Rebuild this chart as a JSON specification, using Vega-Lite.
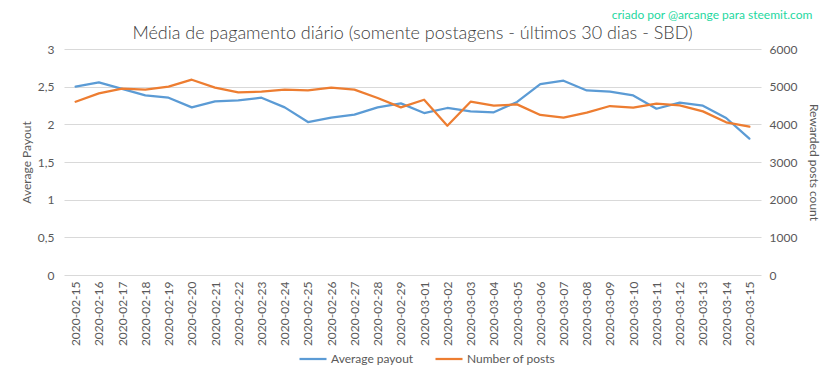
{
  "$schema": "https://vega.github.io/schema/vega-lite/v6.json",
  "width": 697,
  "height": 226,
  "autosize": {"type": "none"},
  "padding": {"left": 64, "top": 49, "right": 72, "bottom": 104},
  "background": "white",
  "title": {
    "text": "Média de pagamento diário (somente postagens - últimos 30 dias - SBD)",
    "font": "Lato",
    "fontSize": 18,
    "fontWeight": 300,
    "color": "#404040",
    "anchor": "middle",
    "offset": -34
  },
  "config": {
    "view": {"stroke": null},
    "font": "Lato",
    "axis": {
      "labelFont": "Lato",
      "labelFontSize": 12,
      "labelColor": "#595959",
      "titleFont": "Lato",
      "titleFontSize": 12,
      "titleFontWeight": "normal",
      "titleColor": "#595959",
      "domain": false,
      "ticks": false,
      "gridColor": "#d9d9d9",
      "gridWidth": 1
    }
  },
  "data": {
    "values": [
      {"date": "2020-02-15", "payout": 2.50, "posts": 4600},
      {"date": "2020-02-16", "payout": 2.557, "posts": 4822},
      {"date": "2020-02-17", "payout": 2.47, "posts": 4946},
      {"date": "2020-02-18", "payout": 2.384, "posts": 4920},
      {"date": "2020-02-19", "payout": 2.354, "posts": 5000},
      {"date": "2020-02-20", "payout": 2.225, "posts": 5185},
      {"date": "2020-02-21", "payout": 2.305, "posts": 4973},
      {"date": "2020-02-22", "payout": 2.318, "posts": 4849},
      {"date": "2020-02-23", "payout": 2.354, "posts": 4866},
      {"date": "2020-02-24", "payout": 2.225, "posts": 4920},
      {"date": "2020-02-25", "payout": 2.03, "posts": 4902},
      {"date": "2020-02-26", "payout": 2.09, "posts": 4973},
      {"date": "2020-02-27", "payout": 2.128, "posts": 4920},
      {"date": "2020-02-28", "payout": 2.225, "posts": 4699},
      {"date": "2020-02-29", "payout": 2.278, "posts": 4450},
      {"date": "2020-03-01", "payout": 2.15, "posts": 4654},
      {"date": "2020-03-02", "payout": 2.217, "posts": 3964},
      {"date": "2020-03-03", "payout": 2.172, "posts": 4601},
      {"date": "2020-03-04", "payout": 2.16, "posts": 4495},
      {"date": "2020-03-05", "payout": 2.297, "posts": 4530},
      {"date": "2020-03-06", "payout": 2.535, "posts": 4248},
      {"date": "2020-03-07", "payout": 2.579, "posts": 4177},
      {"date": "2020-03-08", "payout": 2.45, "posts": 4310},
      {"date": "2020-03-09", "payout": 2.433, "posts": 4486},
      {"date": "2020-03-10", "payout": 2.384, "posts": 4442},
      {"date": "2020-03-11", "payout": 2.207, "posts": 4548},
      {"date": "2020-03-12", "payout": 2.287, "posts": 4504},
      {"date": "2020-03-13", "payout": 2.247, "posts": 4344},
      {"date": "2020-03-14", "payout": 2.084, "posts": 4053},
      {"date": "2020-03-15", "payout": 1.81, "posts": 3938}
    ]
  },
  "encoding": {
    "x": {
      "field": "date",
      "type": "ordinal",
      "scale": {"type": "point", "padding": 0.5},
      "axis": {
        "title": null,
        "labelAngle": -90,
        "labelAlign": "right",
        "labelBaseline": "middle",
        "labelPadding": 6,
        "grid": false
      }
    }
  },
  "layer": [
    {
      "mark": {"type": "line", "strokeWidth": 2.25, "strokeCap": "round", "strokeJoin": "round"},
      "encoding": {
        "y": {
          "field": "payout",
          "type": "quantitative",
          "scale": {"domain": [0, 3], "nice": false},
          "axis": {
            "title": "Average Payout",
            "values": [0, 0.5, 1, 1.5, 2, 2.5, 3],
            "labelExpr": "replace(format(datum.value, '~g'), '.', ',')",
            "labelPadding": 10,
            "titlePadding": 4,
            "grid": true
          }
        },
        "color": {
          "datum": "Average payout",
          "type": "nominal",
          "scale": {"domain": ["Average payout", "Number of posts"], "range": ["#5b9bd5", "#ed7d31"]},
          "legend": {
            "title": null,
            "orient": "none",
            "legendX": 234,
            "legendY": 295,
            "direction": "horizontal",
            "symbolType": "stroke",
            "symbolStrokeWidth": 2.25,
            "symbolSize": 730,
            "labelFont": "Lato",
            "labelFontSize": 12,
            "labelColor": "#595959",
            "labelOffset": 3,
            "columnPadding": 16
          }
        }
      }
    },
    {
      "mark": {"type": "line", "strokeWidth": 2.25, "strokeCap": "round", "strokeJoin": "round"},
      "encoding": {
        "y": {
          "field": "posts",
          "type": "quantitative",
          "scale": {"domain": [0, 6000], "nice": false},
          "axis": {
            "orient": "right",
            "title": "Rewarded posts count",
            "values": [0, 1000, 2000, 3000, 4000, 5000, 6000],
            "format": "d",
            "labelPadding": 8,
            "titlePadding": 10,
            "grid": false
          }
        },
        "color": {"datum": "Number of posts", "type": "nominal"}
      }
    },
    {
      "data": {"values": [{"date": "2020-03-15", "v": 3.45, "label": "criado por @arcange para steemit.com"}]},
      "mark": {"type": "text", "align": "right", "baseline": "middle", "dx": 63, "font": "Lato", "fontSize": 12, "color": "#1ed7a0"},
      "encoding": {
        "y": {"field": "v", "type": "quantitative", "scale": {"domain": [0, 3], "nice": false}, "axis": null},
        "text": {"field": "label"}
      }
    }
  ],
  "resolve": {"scale": {"y": "independent"}}
}
